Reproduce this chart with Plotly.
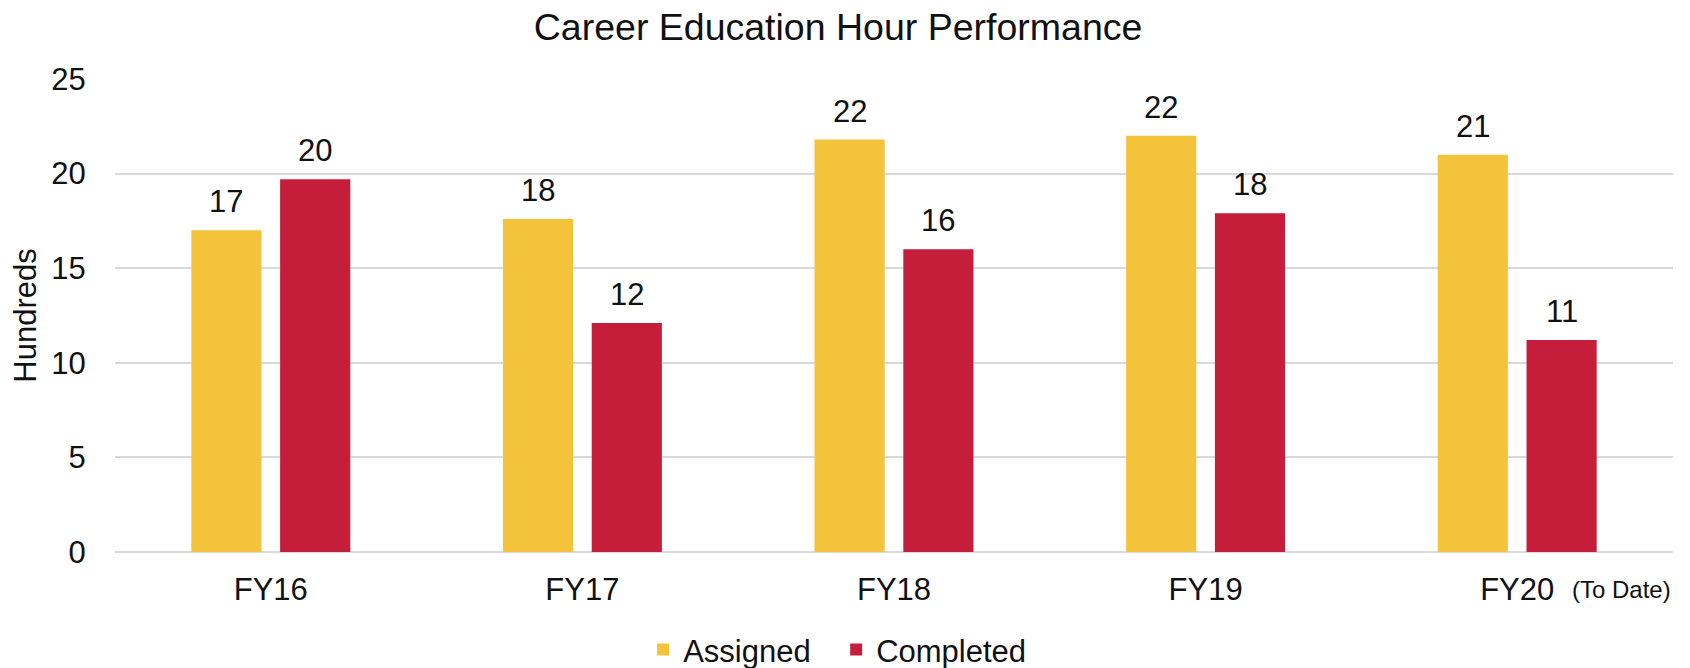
import plotly.graph_objects as go

categories = ["FY16", "FY17", "FY18", "FY19", "FY20"]
assigned = [17.0, 17.6, 21.8, 22.0, 21.0]
completed = [19.7, 12.1, 16.0, 17.9, 11.2]
y_ticks = [0, 5, 10, 15, 20, 25]

FONT = "Liberation Sans, Arial, sans-serif"
# page body has an 8px default margin, so the figure is 8px smaller
W, H = 1682, 660
ML, MR, MT, MB = 107, 17, 71, 116
BARGAP = 0.43
BARGROUPGAP = 0.21
series = [("Assigned", assigned, "#F3C33B"), ("Completed", completed, "#C41E3A")]

fig = go.Figure()
for name, vals, col in series:
    fig.add_trace(go.Bar(name=name, x=categories, y=vals,
                         marker=dict(color=col, line=dict(width=0))))

# value labels above bars, offset to each bar of the group
cat_px = (W - ML - MR) / len(categories)
slot = cat_px * (1 - BARGAP) / len(series)
for i, (name, vals, col) in enumerate(series):
    shift = (i - (len(series) - 1) / 2) * slot
    for c, v in zip(categories, vals):
        fig.add_annotation(x=c, y=v, xref="x", yref="y", text=f"{v:.0f}",
                           showarrow=False, xanchor="center", yanchor="bottom",
                           xshift=shift, yshift=9,
                           font=dict(size=31, color="#111111"))

fig.update_layout(
    width=W, height=H,
    margin=dict(l=ML, r=MR, t=MT, b=MB, autoexpand=False),
    paper_bgcolor="white", plot_bgcolor="white",
    font=dict(family=FONT, size=31, color="#111111"),
    title=dict(text="Career Education Hour Performance", x=0.4935, xanchor="center",
               y=0.971, yanchor="middle", font=dict(size=37.5, color="#111111")),
    barmode="group", bargap=BARGAP, bargroupgap=BARGROUPGAP,
    showlegend=True,
    legend=dict(orientation="h", x=0.339, xanchor="left", y=-0.207, yanchor="middle",
                font=dict(size=31), traceorder="normal",
                entrywidth=148, entrywidthmode="pixels"),
)
fig.update_yaxes(range=[0, 25], tickvals=y_ticks, showgrid=True, gridcolor="#D9D9D9",
                 gridwidth=2, zeroline=True, zerolinecolor="#D9D9D9", zerolinewidth=2,
                 showline=False, ticks="outside", ticklen=22, tickcolor="rgba(0,0,0,0)",
                 tickfont=dict(size=31), automargin=False,
                 title=dict(text="Hundreds", font=dict(size=31), standoff=5))
fig.update_xaxes(showgrid=False, showline=False, ticks="outside", ticklen=10,
                 tickcolor="rgba(0,0,0,0)", tickfont=dict(size=31), automargin=False)
fig.add_annotation(text="(To Date)", xref="paper", yref="paper", x=1.0, xanchor="right",
                   y=-0.08, yanchor="middle", showarrow=False,
                   font=dict(size=24, color="#111111"))

fig.write_html("out.html")
